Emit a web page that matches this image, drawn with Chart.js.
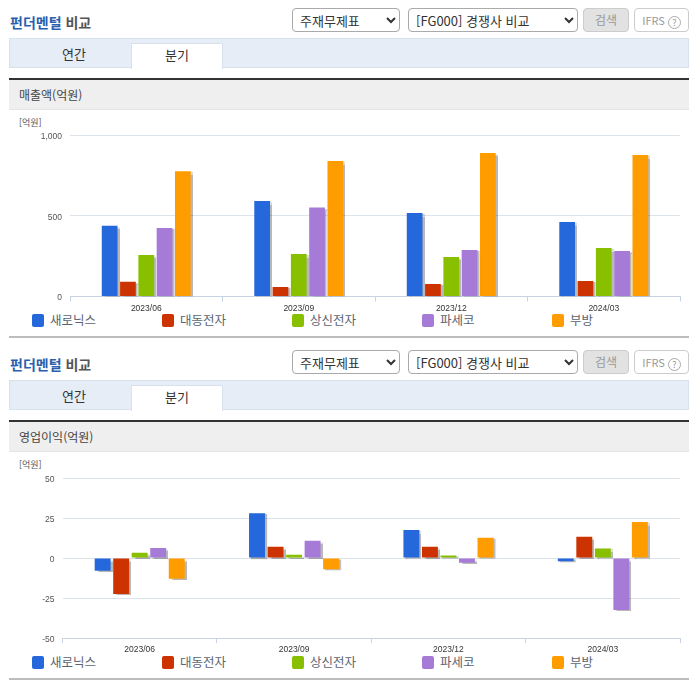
<!DOCTYPE html>
<html lang="ko">
<head>
<meta charset="utf-8">
<title>펀더멘털 비교</title>
<script src="https://cdn.jsdelivr.net/npm/chart.js@4"></script>
<style>
  html, body { margin:0; padding:0; background:#fff; }
  body { position:relative; width:696px; height:684px; overflow:hidden; font-family:"Noto Sans CJK KR","Noto Sans",sans-serif; color:#444; }
  .abs { position:absolute; box-sizing:border-box; white-space:nowrap; }
  .title { left:10px; font-size:14px; font-weight:700; line-height:20px; color:#555; }
  .title b { color:#2b5fae; font-weight:700; }
  select.abs { height:24px; border:1px solid #aaa; border-radius:4px; background:#fff; font:13px "Noto Sans CJK KR",sans-serif; color:#333; padding:0 3px; }
  .btn { height:24px; border:1px solid #ccc; border-radius:4px; font-size:12px; line-height:22px; text-align:center; }
  .help { display:inline-block; width:13px; height:13px; line-height:11px; margin-left:3px; border:1px solid #aaa; border-radius:50%; box-sizing:border-box; font-size:9px; vertical-align:-1px; }
  .tabbar { left:9px; width:680px; height:30px; background:#e6edf7; border:1px solid #d8e1ee; }
  .tab { font-size:13px; line-height:22px; text-align:center; color:#333; height:25px; }
  .tab.on { left:131px; width:92px; background:#fff; border:1px solid #d8e1ee; border-bottom:none; }
  .band { left:9px; width:680px; height:32px; background:#efefef; border-top:2px solid #333; border-bottom:1px solid #e4e4e4; font-size:12px; line-height:29px; padding-left:10px; color:#444; }
  .unit { left:19px; font-size:9px; line-height:12px; color:#555; }
  .swatch { width:12px; height:13px; border-radius:2px; }
  .lbl { font-size:12.5px; line-height:16px; color:#5a6472; }
  .rule { left:9px; width:680px; height:2px; background:#bdbdbd; }
  canvas { position:absolute; left:0; }
</style>
</head>
<body>
<script>
const categories = ['2023/06', '2023/09', '2023/12', '2024/03'];
const companies = ['새로닉스', '대동전자', '상신전자', '파세코', '부방'];
const colors = ['#2468dc', '#cc3300', '#88c000', '#a67bd8', '#ff9c00'];

// 매출액(억원)
const salesSaeronix = [438, 591, 517, 461];
const salesDaedong  = [92, 59, 77, 96];
const salesSangsin  = [257, 263, 245, 300];
const salesPaseco   = [424, 551, 288, 282];
const salesBubang   = [775, 839, 889, 876];
const salesTicks    = [0, 500, 1000];

// 영업이익(억원)
const profitSaeronix = [-8, 28, 17.5, -2];
const profitDaedong  = [-22.5, 7, 7, 13.3];
const profitSangsin  = [3.3, 2, 1.5, 6];
const profitPaseco   = [6.3, 10.8, -3, -32.5];
const profitBubang   = [-13, -7, 12.7, 22.5];
const profitTicks    = [-50, -25, 0, 25, 50];

// grey drop shadow behind each bar
const barShadow = {
  id: 'barShadow',
  beforeDatasetDraw(chart) {
    const c = chart.ctx;
    c.save();
    c.shadowColor = 'rgba(0,0,0,0.28)';
    c.shadowOffsetX = 2;
    c.shadowOffsetY = 1;
    c.shadowBlur = 1;
  },
  afterDatasetDraw(chart) { chart.ctx.restore(); }
};

function addSection(off, label) {
  const html = `
    <div class="abs title" style="top:${off+12}px"><b>펀더멘털</b> 비교</div>
    <select class="abs" style="left:292px;top:${off+8}px;width:108px"><option>주재무제표</option></select>
    <select class="abs" style="left:408px;top:${off+8}px;width:170px"><option>[FG000] 경쟁사 비교</option></select>
    <div class="abs btn" style="left:583px;top:${off+8}px;width:46px;background:#e2e2e2;color:#999">검색</div>
    <div class="abs btn" style="left:634px;top:${off+8}px;width:55px;background:#fff;color:#999;font-size:11px">IFRS<span class="help">?</span></div>
    <div class="abs tabbar" style="top:${off+38}px"></div>
    <div class="abs tab" style="left:18px;width:112px;top:${off+43}px">연간</div>
    <div class="abs tab on" style="top:${off+43}px;height:26px">분기</div>
    <div class="abs band" style="top:${off+78}px">${label}</div>
    <div class="abs unit" style="top:${off+117}px">[억원]</div>
    <div class="abs rule" style="top:${off+336}px"></div>`;
  document.body.insertAdjacentHTML('beforeend', html);
  companies.forEach((name, i) => {
    const x = 32 + i * 130;
    document.body.insertAdjacentHTML('beforeend',
      `<div class="abs swatch" style="left:${x}px;top:${off+314}px;background:${colors[i]}"></div>
       <div class="abs lbl" style="left:${x+18}px;top:${off+312}px">${name}</div>`);
  });
}

function makeChart(top, height, axisWidth, padTop, xHeight, ticks, series) {
  const canvas = document.createElement('canvas');
  canvas.style.top = top + 'px';
  canvas.style.width = '696px';
  canvas.style.height = height + 'px';
  canvas.width = 696;
  canvas.height = height;
  document.body.appendChild(canvas);
  new Chart(canvas, {
    type: 'bar',
    data: {
      labels: categories,
      datasets: companies.map((name, i) => ({
        label: name,
        data: series[i],
        backgroundColor: colors[i],
        categoryPercentage: 0.6,
        barPercentage: 0.86
      }))
    },
    options: {
      responsive: false,
      animation: false,
      layout: { padding: { top: padTop, right: 16, left: 0, bottom: 0 } },
      plugins: { legend: { display: false }, tooltip: { enabled: false } },
      scales: {
        x: {
          grid: { drawOnChartArea: false, drawTicks: true, tickLength: 5, color: '#c5d3e2' },
          border: { color: '#c5d3e2' },
          ticks: { maxRotation: 0, padding: 2, color: '#333', font: { size: 8.5, family: '"Liberation Sans"' } },
          afterFit: s => { s.height = xHeight; }
        },
        y: {
          min: ticks[0],
          max: ticks[ticks.length - 1],
          afterBuildTicks: s => { s.ticks = ticks.map(v => ({ value: v })); },
          grid: { drawTicks: false, color: '#dde3ea' },
          border: { display: false },
          ticks: {
            padding: 8, labelOffset: 1.5, color: '#555', font: { size: 8.5, family: '"Liberation Sans"' },
            callback: v => v.toLocaleString('en-US')
          },
          afterFit: s => { s.width = axisWidth; }
        }
      }
    },
    plugins: [barShadow]
  });
}

addSection(0, '매출액(억원)');
addSection(342, '영업이익(억원)');

makeChart(115, 202, 70, 20, 20.5, salesTicks,
  [salesSaeronix, salesDaedong, salesSangsin, salesPaseco, salesBubang]);
makeChart(458, 202, 62.5, 20, 22, profitTicks,
  [profitSaeronix, profitDaedong, profitSangsin, profitPaseco, profitBubang]);
</script>
</body>
</html>
